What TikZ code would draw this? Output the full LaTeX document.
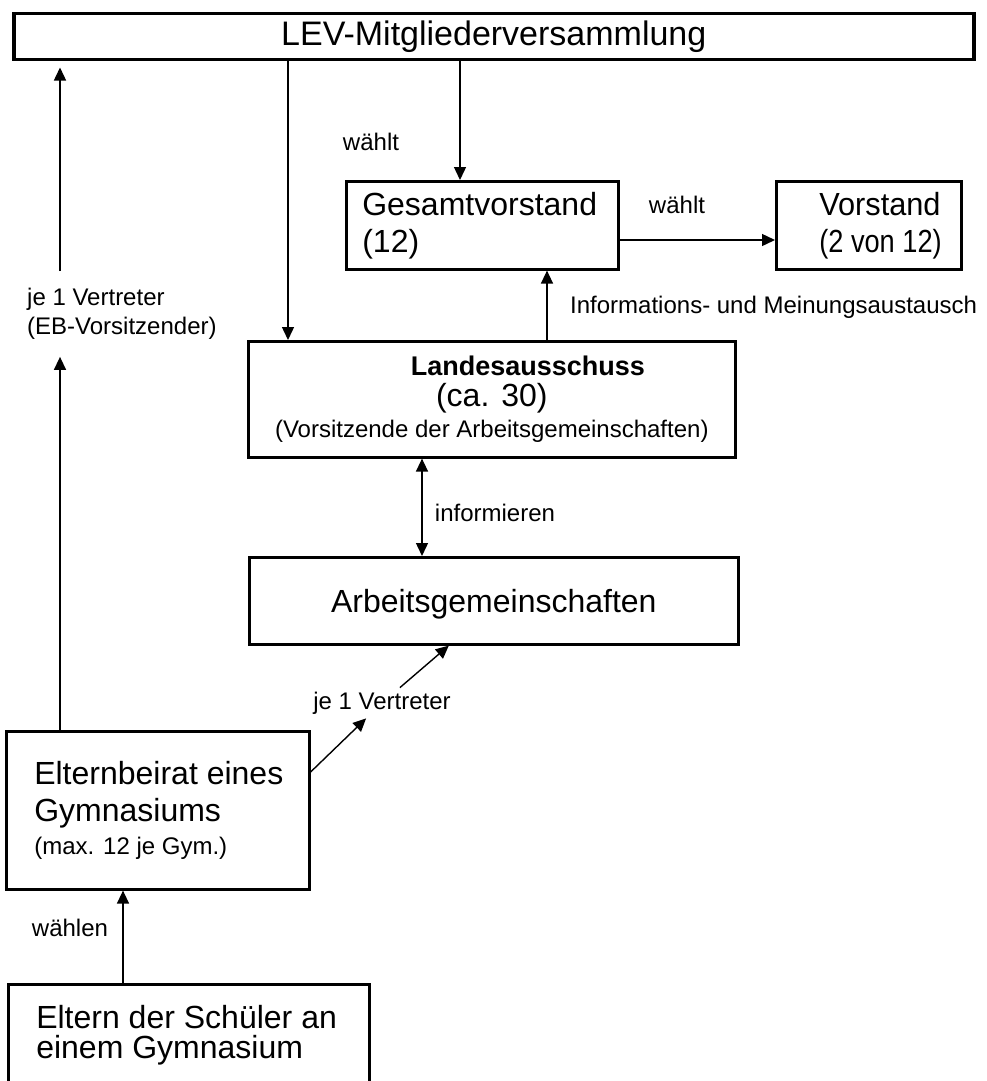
\documentclass[tikz,border=0pt]{standalone}
\usepackage{graphicx}
\usepackage{fontspec}
\setmainfont{Liberation Sans}
\usetikzlibrary{arrows.meta}

\newcommand{\bigtxt}{\fontsize{32}{37}\selectfont}
\newcommand{\smalltxt}{\fontsize{24}{29}\selectfont}

\tikzset{
  box/.style={draw, line width=2.6pt, inner ysep=0pt, inner xsep=0pt, anchor=north west},
  arr/.style={line width=1.4pt, -{Triangle[length=13pt,width=12pt]}},
  dbl/.style={line width=1.4pt, {Triangle[length=13pt,width=12pt]}-{Triangle[length=13pt,width=12pt]}},
  lbl/.style={inner sep=0pt, font=\smalltxt},
}

\begin{document}
\begin{tikzpicture}[x=1pt,y=1pt,yscale=-1]
\useasboundingbox (0,0) rectangle (987,1081);
\clip (0,0) rectangle (987,1081);
\fill[white] (0,0) rectangle (987,1081);

% columns of the vertical connectors
\coordinate (xL) at (60,0);
\coordinate (xA) at (288,0);
\coordinate (xG) at (460,0);
\coordinate (xI) at (547,0);
\coordinate (xD) at (422,0);
\coordinate (xW) at (123,0);
\coordinate (yV) at (0,240);

% Boxes
\node[box, line width=3.5pt, minimum width=960pt, minimum height=46pt, font=\fontsize{34}{40}\selectfont] (lev) at (12,12) {LEV-Mitgliederversammlung};
\node[box, minimum height=88pt, text width=272pt, align=flush left, font=\bigtxt] (gv) at (345,180) {\hspace*{16pt}Gesamtvorstand\\\hspace*{16pt}(12)};
\node[box, minimum height=88pt, text width=185pt, align=flush left, font=\bigtxt] (vs) at (775,180) {\hspace*{43pt}\scalebox{0.96}[1]{Vorstand}\\\hspace*{43pt}\scalebox{0.85}[1]{(2 von 12)}};
\node[box, minimum width=487pt, minimum height=116pt, align=center, font=\fontsize{24}{31}\selectfont] (la) at (247,340) {\hspace*{72pt}{\fontsize{27}{31}\selectfont\bfseries Landesausschuss}\\{\bigtxt (ca. 30)}\\(Vorsitzende der Arbeitsgemeinschaften)};
\node[box, minimum width=489pt, minimum height=87pt, font=\bigtxt] (ag) at (248,556) {\raisebox{-12pt}[0pt][0pt]{Arbeitsgemeinschaften}};
\node[box, minimum height=158pt, text width=303pt, align=flush left, font=\bigtxt] (eb) at (5,730) {\hspace*{28pt}Elternbeirat eines\\\hspace*{28pt}Gymnasiums\\[-4pt]\hspace*{28pt}{\smalltxt (max. 12 je Gym.)}};
\node[box, minimum height=102pt, text width=361pt, align=flush left, font=\fontsize{32}{30}\selectfont] (el) at (7,983) {\hspace*{28pt}Eltern der Schüler an\\\hspace*{28pt}einem Gymnasium};

% Text Nodes
\node[lbl] (w1) at (371,142) {wählt};
\node[lbl] (w2) at (677,205) {wählt};
\node[lbl, anchor=west] (info) at (570,307) {Informations- und Meinungsaustausch};
\node[lbl] (inf) at (495,513) {informieren};
\node[lbl] (wl) at (70,928) {wählen};
\node[lbl, align=flush left, anchor=west, inner ysep=17pt] (jv1) at (27,314) {je 1 Vertreter\\(EB-Vorsitzender)};
\node[lbl, inner sep=4pt] (jv2) at (382,703) {je 1 Vertreter};

% Connectors
\draw[arr] (eb.north -| xL) -- (jv1.south -| xL);
\draw[arr, shorten >=6pt] (jv1.north -| xL) -- (lev.south -| xL);
\draw[arr] (lev.south -| xA) -- (la.north -| xA);
\draw[arr] (lev.south -| xG) -- (gv.north -| xG);
\draw[arr] (gv.east |- yV) -- (vs.west |- yV);
\draw[arr] (la.north -| xI) -- (gv.south -| xI);
\draw[dbl] (la.south -| xD) -- (ag.north -| xD);
\draw[arr] ([yshift=42pt]eb.north east) -- (jv2);
\draw[arr] (jv2) -- ([xshift=-45pt]ag.south);
\draw[arr] (el.north -| xW) -- (eb.south -| xW);

\end{tikzpicture}
\end{document}
